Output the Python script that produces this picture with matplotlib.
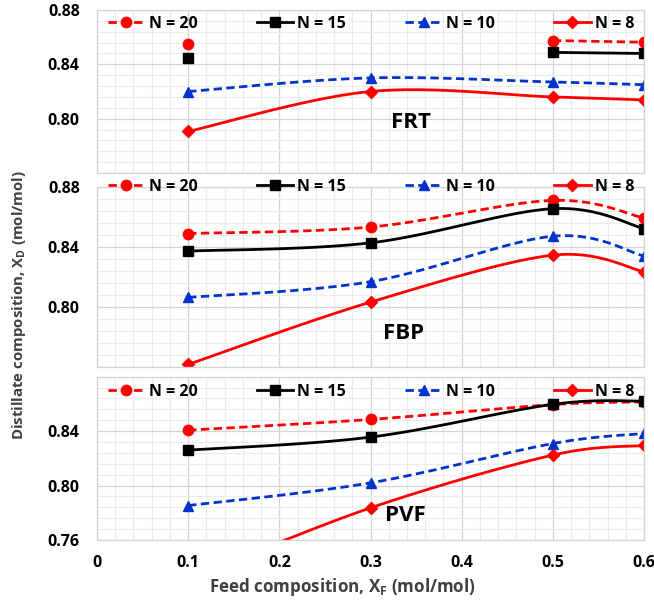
import numpy as np
import matplotlib
matplotlib.use("Agg")
import matplotlib.pyplot as plt
from matplotlib.lines import Line2D

plt.rcParams['font.family'] = ['Open Sans', 'DejaVu Sans']
plt.rcParams['font.weight'] = 'bold'
plt.rcParams['mathtext.fontset'] = 'custom'
plt.rcParams['mathtext.rm'] = 'Open Sans:bold'
plt.rcParams['mathtext.bf'] = 'Open Sans:bold'

nan = np.nan
xf = [0.1, 0.3, 0.5, 0.6]
labels = ['N = 20', 'N = 15', 'N = 10', 'N = 8']

# FRT
frt_n20 = [0.855, nan, 0.8575, 0.8563]
frt_n15 = [0.8444, nan, 0.8488, 0.848]
frt_n10 = [0.820, 0.830, 0.827, 0.825]
frt_n8 = [0.7906, 0.820, 0.816, 0.8138]
# FBP
fbp_n20 = [0.8489, 0.8532, 0.8709, 0.8592]
fbp_n15 = [0.8372, 0.8427, 0.8654, 0.8522]
fbp_n10 = [0.8064, 0.8169, 0.8471, 0.8339]
fbp_n8 = [0.7619, 0.8033, 0.8345, 0.8235]
# PVF
pvf_n20 = [0.8407, 0.8486, 0.8595, 0.8615]
pvf_n15 = [0.826, 0.8356, 0.8597, 0.8621]
pvf_n10 = [0.7853, 0.802, 0.8309, 0.8383]
pvf_n8 = [0.731, 0.7836, 0.8224, 0.8295]

styles = [
    dict(color='#ff0000', ls=(0, (3, 1.6)), marker='o', ms=7.5),
    dict(color='#000000', ls='-', marker='s', ms=7.5),
    dict(color='#0033cc', ls=(0, (3, 1.6)), marker='^', ms=7),
    dict(color='#ff0000', ls='-', marker='D', ms=6.5),
]


def smooth(x, y, n=40):
    # Excel-like smoothed line (Catmull-Rom as cubic Bezier)
    p = np.column_stack([x, y])
    if len(p) < 2:
        return p[:, 0], p[:, 1]
    pe = np.vstack([p[0], p, p[-1]])
    t = np.linspace(0, 1, n)[1:, None]
    out = [p[:1]]
    for i in range(len(p) - 1):
        p0, p1, p2, p3 = pe[i], pe[i + 1], pe[i + 2], pe[i + 3]
        b1 = p1 + (p2 - p0) / 6
        b2 = p2 - (p3 - p1) / 6
        out.append((1 - t) ** 3 * p1 + 3 * (1 - t) ** 2 * t * b1
                   + 3 * (1 - t) * t ** 2 * b2 + t ** 3 * p2)
    q = np.vstack(out)
    return q[:, 0], q[:, 1]


def draw_series(ax, x, y, st):
    x = np.asarray(x, float)
    y = np.asarray(y, float)
    ok = ~np.isnan(y)
    # split into runs of valid points
    runs, cur = [], []
    for i in range(len(x)):
        if ok[i]:
            cur.append(i)
        elif cur:
            runs.append(cur)
            cur = []
    if cur:
        runs.append(cur)
    for r in runs:
        if len(r) > 1:
            sx, sy = smooth(x[r], y[r])
            ax.plot(sx, sy, color=st['color'], ls=st['ls'], lw=2.0,
                    solid_capstyle='butt', dash_capstyle='butt')
    ax.plot(x[ok], y[ok], ls='none', marker=st['marker'], ms=st['ms'],
            color=st['color'], mec=st['color'])


def fit_text(fig, txt, length, vertical=False):
    # scale font so the label spans the given pixel length
    fig.canvas.draw()
    bb = txt.get_window_extent(fig.canvas.get_renderer())
    cur = bb.height if vertical else bb.width
    txt.set_fontsize(txt.get_fontsize() * length / cur)


panels = [
    ([frt_n20, frt_n15, frt_n10, frt_n8], 'FRT', (0.778, 0.88),
     [0.80, 0.84, 0.88], (0.344, 0.797), 0.914),
    ([fbp_n20, fbp_n15, fbp_n10, fbp_n8], 'FBP', (0.76, 0.88),
     [0.80, 0.84, 0.88], (0.336, 0.7824), 1.0),
    ([pvf_n20, pvf_n15, pvf_n10, pvf_n8], 'PVF', (0.76, 0.88),
     [0.76, 0.80, 0.84], (0.338, 0.778), 0.908),
]

fig = plt.figure(figsize=(6.54, 6.0), dpi=100)
L, R = 97 / 654, 644 / 654
boxes = [(10, 173), (186.7, 367.3), (376.7, 540)]

for (series, name, ylim, ylab, txt, legy), (top, bot) in zip(panels, boxes):
    ax = fig.add_axes([L, 1 - bot / 600, R - L, (bot - top) / 600])
    ax.set_xlim(0, 0.6)
    ax.set_ylim(*ylim)
    ax.set_xticks(np.arange(0, 0.61, 0.1))
    ax.set_xticks(np.arange(0, 0.61, 0.02), minor=True)
    major = np.arange(0.76, 0.8801, 0.04)
    ax.set_yticks(major)
    ax.set_yticklabels(['%.2f' % v if any(abs(v - w) < 1e-6 for w in ylab) else ''
                        for v in major])
    ax.set_yticks(np.arange(0.76, 0.8801, 0.008), minor=True)
    ax.grid(which='major', color='#d4d4d4', lw=0.9)
    ax.grid(which='minor', color='#ececec', lw=0.8)
    ax.set_axisbelow(True)
    ax.tick_params(which='both', length=0)
    ax.tick_params(axis='y', pad=12.5, labelsize=11.5)
    ax.tick_params(axis='x', pad=11, labelsize=11.5)
    for s in ax.spines.values():
        s.set_color('#d4d4d4')
        s.set_linewidth(0.9)
    for y, st in zip(series, styles):
        draw_series(ax, xf, y, st)
    ax.text(txt[0], txt[1], name, fontsize=16, fontweight='bold',
            ha='center', va='center')
    handles = [Line2D([], [], color=st['color'], ls=st['ls'], lw=2.0,
                      marker=st['marker'], ms=st['ms'], mec=st['color'])
               for st in styles]
    ax.legend(handles, labels, loc='center left', ncol=4,
              bbox_to_anchor=(11 / 547, legy), frameon=False,
              fontsize=11.5, handlelength=2.3, handletextpad=0.25,
              columnspacing=3.7, borderaxespad=0, borderpad=0, numpoints=1)
    if name == 'PVF':
        ax.set_xticklabels(['0', '0.1', '0.2', '0.3', '0.4', '0.5', '0.6'])
    else:
        ax.tick_params(axis='x', labelbottom=False)

xlab = fig.text(342 / 654, 1 - 587 / 600,
                r'Feed composition, X$_\mathregular{F}$ (mol/mol)',
                ha='center', va='center', fontsize=12.5, color='#404040')
ylab = fig.text(19 / 654, 1 - 305 / 600,
                r'Distillate composition, X$_\mathregular{D}$ (mol/mol)',
                ha='center', va='center', rotation=90, fontsize=10,
                color='#404040')
fit_text(fig, xlab, 268)
fit_text(fig, ylab, 269, vertical=True)

fig.savefig('out.png', dpi=100)
